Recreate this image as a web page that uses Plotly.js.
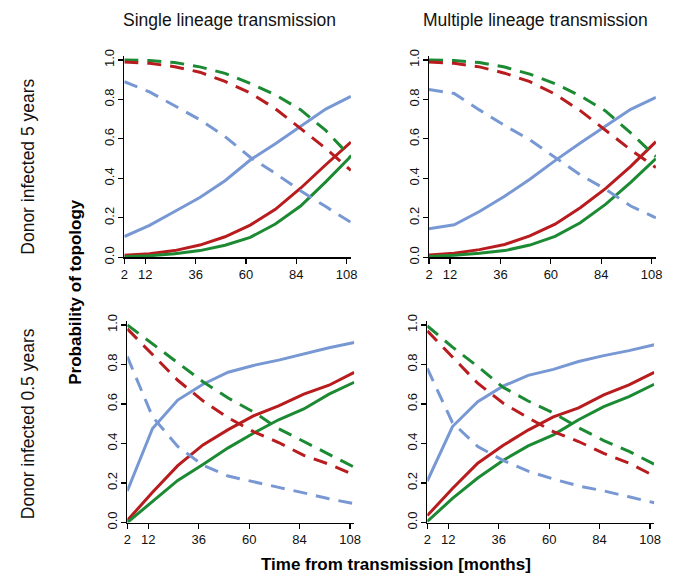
<!DOCTYPE html>
<html>
<head>
<meta charset="utf-8">
<script src="https://cdn.plot.ly/plotly-3.0.1.min.js"></script>
<style>html,body{margin:0;padding:0;background:#fff;}#chart{width:679px;height:575px;}</style>
</head>
<body>
<div id="chart"></div>
<script>
// ---- data ----
var months = [2, 14, 26, 38, 50, 62, 74, 86, 98, 110];
var xTicks = [2, 12, 36, 60, 84, 108];
var yTicks = [0, 0.2, 0.4, 0.6, 0.8, 1.0];
var yTickLabels = ["0.0", "0.2", "0.4", "0.6", "0.8", "1.0"];

var colTitles = ["Single lineage transmission", "Multiple lineage transmission"];
var rowTitles = ["Donor infected 5 years", "Donor infected 0.5 years"];

// Single lineage, donor 5 years
var blueSolidA  = [0.105, 0.162, 0.232, 0.303, 0.388, 0.493, 0.575, 0.665, 0.751, 0.816];
var redSolidA   = [0.010, 0.018, 0.034, 0.062, 0.104, 0.163, 0.243, 0.350, 0.469, 0.584];
var greenSolidA = [0.003, 0.008, 0.018, 0.034, 0.061, 0.101, 0.169, 0.260, 0.382, 0.512];
var greenDashA  = [1.000, 0.997, 0.987, 0.965, 0.932, 0.881, 0.823, 0.748, 0.643, 0.508];
var redDashA    = [0.990, 0.983, 0.966, 0.938, 0.891, 0.833, 0.753, 0.653, 0.552, 0.440];
var blueDashA   = [0.890, 0.838, 0.768, 0.697, 0.612, 0.507, 0.425, 0.337, 0.257, 0.177];

// Multiple lineage, donor 5 years
var blueSolidB  = [0.145, 0.165, 0.232, 0.309, 0.396, 0.490, 0.579, 0.665, 0.750, 0.810];
var redSolidB   = [0.012, 0.021, 0.039, 0.065, 0.109, 0.168, 0.251, 0.348, 0.461, 0.586];
var greenSolidB = [0.004, 0.010, 0.020, 0.034, 0.062, 0.106, 0.175, 0.268, 0.380, 0.500];
var greenDashB  = [1.000, 0.997, 0.987, 0.964, 0.928, 0.880, 0.818, 0.742, 0.630, 0.510];
var redDashB    = [0.990, 0.983, 0.965, 0.933, 0.890, 0.827, 0.743, 0.643, 0.545, 0.455];
var blueDashB   = [0.850, 0.830, 0.747, 0.668, 0.595, 0.505, 0.418, 0.345, 0.260, 0.200];

// Single lineage, donor 0.5 years
var blueSolidC  = [0.160, 0.476, 0.620, 0.700, 0.761, 0.795, 0.822, 0.852, 0.885, 0.911];
var redSolidC   = [0.010, 0.153, 0.288, 0.393, 0.470, 0.540, 0.590, 0.650, 0.695, 0.760];
var greenSolidC = [0.000, 0.108, 0.213, 0.294, 0.378, 0.452, 0.520, 0.575, 0.650, 0.710];
var greenDashC  = [1.000, 0.905, 0.808, 0.713, 0.630, 0.560, 0.475, 0.410, 0.345, 0.280];
var redDashC    = [0.980, 0.852, 0.720, 0.616, 0.530, 0.460, 0.405, 0.340, 0.295, 0.240];
var blueDashC   = [0.840, 0.535, 0.385, 0.290, 0.235, 0.205, 0.178, 0.150, 0.120, 0.095];

// Multiple lineage, donor 0.5 years
var blueSolidD  = [0.210, 0.486, 0.612, 0.690, 0.745, 0.775, 0.815, 0.845, 0.870, 0.900];
var redSolidD   = [0.035, 0.172, 0.300, 0.390, 0.468, 0.535, 0.580, 0.646, 0.697, 0.760];
var greenSolidD = [0.005, 0.122, 0.225, 0.314, 0.388, 0.444, 0.520, 0.587, 0.637, 0.700];
var greenDashD  = [0.995, 0.888, 0.790, 0.685, 0.615, 0.555, 0.480, 0.415, 0.360, 0.295];
var redDashD    = [0.970, 0.835, 0.705, 0.605, 0.530, 0.460, 0.410, 0.350, 0.300, 0.236];
var blueDashD   = [0.780, 0.505, 0.385, 0.315, 0.260, 0.220, 0.185, 0.160, 0.130, 0.100];

// ---- styling ----
var BLUE = "#7898d4", RED = "#b81c1e", GREEN = "#1c8a33";
var FONT = "Liberation Sans, Arial, Helvetica, sans-serif";
var DASH = "14px,9px";

var panels = [
  {xa: "x",  ya: "y",  s: [blueSolidA, redSolidA, greenSolidA, greenDashA, redDashA, blueDashA]},
  {xa: "x2", ya: "y2", s: [blueSolidB, redSolidB, greenSolidB, greenDashB, redDashB, blueDashB]},
  {xa: "x3", ya: "y3", s: [blueSolidC, redSolidC, greenSolidC, greenDashC, redDashC, blueDashC]},
  {xa: "x4", ya: "y4", s: [blueSolidD, redSolidD, greenSolidD, greenDashD, redDashD, blueDashD]}
];
var styles = [
  {c: BLUE, d: "solid"}, {c: RED, d: "solid"}, {c: GREEN, d: "solid"},
  {c: GREEN, d: DASH}, {c: RED, d: DASH}, {c: BLUE, d: DASH}
];

var traces = [];
panels.forEach(function (p) {
  p.s.forEach(function (vals, i) {
    traces.push({
      type: "scatter", mode: "lines", x: months, y: vals,
      xaxis: p.xa, yaxis: p.ya, showlegend: false, hoverinfo: "skip",
      line: {color: styles[i].c, width: 3, dash: styles[i].d, shape: "linear"}
    });
  });
});

function xax(domain, anchor) {
  return {
    domain: domain, anchor: anchor, range: [2, 110], tickmode: "array",
    tickvals: xTicks, ticktext: xTicks.map(String), ticks: "outside", ticklen: 5,
    tickwidth: 1.2, tickcolor: "#000", showline: true, linecolor: "#000", linewidth: 1.3,
    showgrid: false, zeroline: false, tickfont: {family: FONT, size: 13, color: "#111"}
  };
}
function yax(domain, anchor) {
  return {
    domain: domain, anchor: anchor, range: [0, 1.02], tickmode: "array",
    tickvals: yTicks, ticktext: yTickLabels, ticks: "outside", ticklen: 5,
    tickwidth: 1.2, tickcolor: "#000", showline: true, linecolor: "#000", linewidth: 1.3,
    showgrid: false, zeroline: false, tickangle: -90, ticklabelstandoff: -1,
    tickfont: {family: FONT, size: 13, color: "#111"}
  };
}

var topY = [0.5525, 0.9026], botY = [0.0913, 0.4417];
var layout = {
  width: 679, height: 575,
  margin: {l: 0, r: 0, t: 0, b: 0},
  paper_bgcolor: "#fff", plot_bgcolor: "#fff",
  xaxis:  xax([0.1831, 0.5168], "y"),
  yaxis:  yax(topY, "x"),
  xaxis2: xax([0.6318, 0.9660], "y2"),
  yaxis2: yax(topY, "x2"),
  xaxis3: xax([0.1875, 0.5217], "y3"),
  yaxis3: yax(botY, "x3"),
  xaxis4: xax([0.6293, 0.9635], "y4"),
  yaxis4: yax(botY, "x4"),
  annotations: [
    {text: colTitles[0], xref: "paper", yref: "paper", x: 0.338, y: 0.965, showarrow: false,
     xanchor: "center", yanchor: "middle", font: {family: FONT, size: 17.5, color: "#111"}},
    {text: colTitles[1], xref: "paper", yref: "paper", x: 0.788, y: 0.965, showarrow: false,
     xanchor: "center", yanchor: "middle", font: {family: FONT, size: 17.5, color: "#111"}},
    {text: rowTitles[0], xref: "paper", yref: "paper", x: 0.0412, y: 0.710, showarrow: false,
     textangle: -90, xanchor: "center", yanchor: "middle", font: {family: FONT, size: 17.5, color: "#111"}},
    {text: rowTitles[1], xref: "paper", yref: "paper", x: 0.0412, y: 0.264, showarrow: false,
     textangle: -90, xanchor: "center", yanchor: "middle", font: {family: FONT, size: 17.5, color: "#111"}},
    {text: "<b>Probability of topology</b>", xref: "paper", yref: "paper", x: 0.110, y: 0.492, showarrow: false,
     textangle: -90, xanchor: "center", yanchor: "middle", font: {family: FONT, size: 17, color: "#000"}},
    {text: "<b>Time from transmission [months]</b>", xref: "paper", yref: "paper", x: 0.583, y: 0.0174, showarrow: false,
     xanchor: "center", yanchor: "middle", font: {family: FONT, size: 17, color: "#000"}}
  ]
};

Plotly.newPlot("chart", traces, layout, {staticPlot: true, displayModeBar: false});
</script>
</body>
</html>
